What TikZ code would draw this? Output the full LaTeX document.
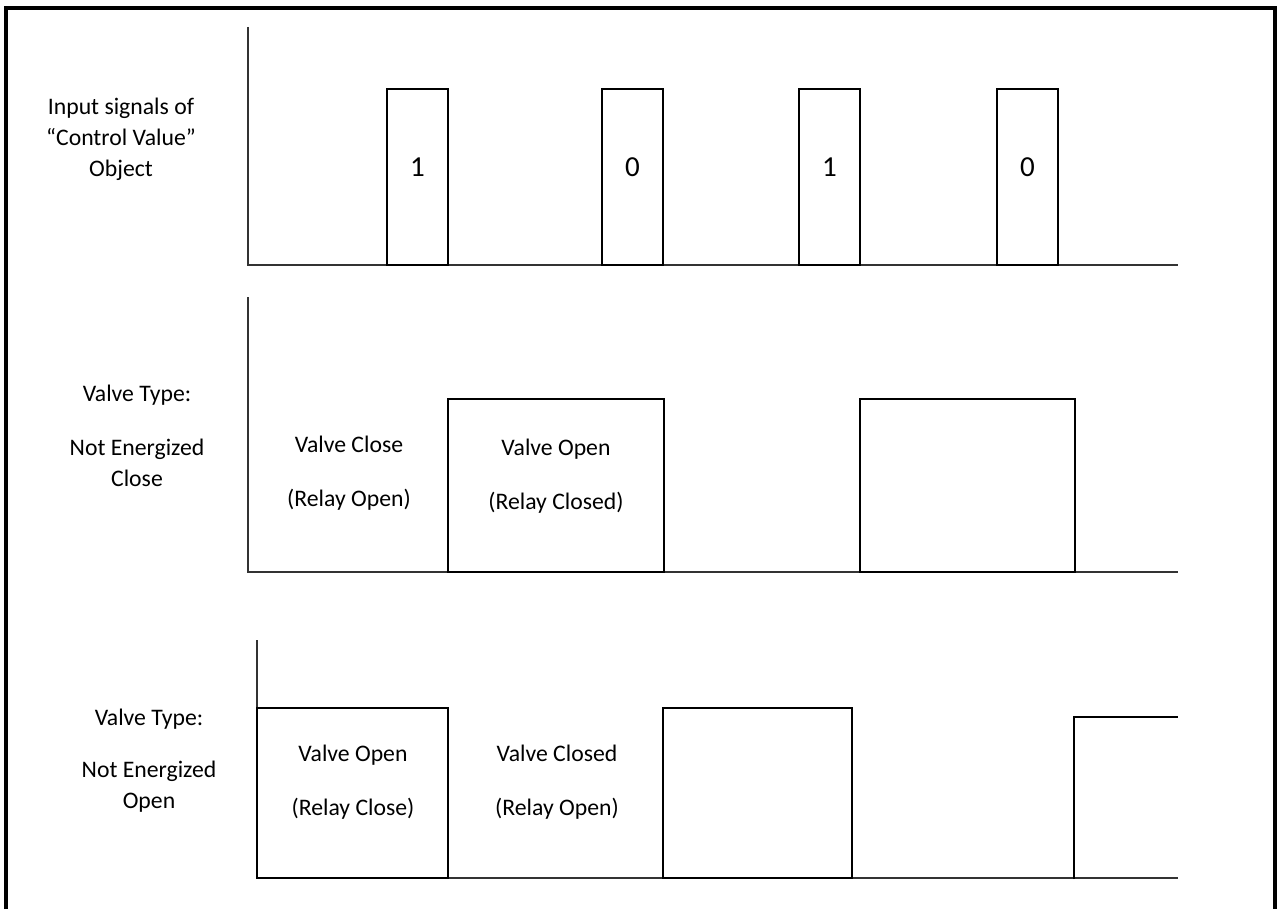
\documentclass[tikz,border=0pt]{standalone}
\usepackage{fontspec}
\setmainfont{Carlito}
\usepackage{tikz}
\usetikzlibrary{positioning}

\begin{document}
\begin{tikzpicture}[
    x=0.02cm, y=-0.02cm,
    every node/.style={font=\fontsize{13.5}{17.6}\selectfont},
    sidetext/.style={align=center},
    digit/.style={font=\fontsize{16.5}{20}\selectfont},
    axisline/.style={line width=0.6pt, black!80},
    pulse/.style={draw, line width=1.3pt},
    frameline/.style={line width=1.8pt}
]
\useasboundingbox (0,0) rectangle (1277,909);

% Outer frame (open at the bottom)
\draw[frameline] (6,909) -- (6,8) -- (1275,8) -- (1275,909);

% Input signals
\node[sidetext] (insig) at (121,139) {Input signals of\\“Control Value”\\Object};
\draw[axisline] (248,27) -- (248,265) -- (1178,265);
\foreach \xa/\val [count=\i] in {387/1, 602/0, 799/1, 997/0} {
    \draw[pulse] (\xa,265) rectangle (\xa+61,89);
    \node[digit] (bit\i) at (\xa+30.5,167) {\val};
}

% Valve type: not energized close
\node[sidetext] (ncType) at (137,436) {Valve Type:\\[13pt]Not Energized\\Close};
\draw[axisline] (248,297) -- (248,572) -- (1178,572);
\draw[pulse] (448,572) rectangle (664,399);
\draw[pulse] (860,572) rectangle (1075,399);
\node[sidetext] (ncClose) at (349,473) {Valve Close\\[13.5pt](Relay Open)};
\node[sidetext] (ncOpen) at (556,476) {Valve Open\\[13.5pt](Relay Closed)};

% Valve type: not energized open
\node[sidetext] (noType) at (149,761) {Valve Type:\\[12pt]Not Energized\\Open};
\draw[axisline] (257,640) -- (257,878) -- (1178,878);
\draw[pulse] (257,878) rectangle (448,708);
\draw[pulse] (663,878) rectangle (852,708);
\draw[pulse] (1074,879) -- (1074,717) -- (1178,717);
\node[sidetext] (noOpen) at (353,782) {Valve Open\\[13pt](Relay Close)};
\node[sidetext] (noClosed) at (557,782) {Valve Closed\\[13pt](Relay Open)};

\end{tikzpicture}
\end{document}
